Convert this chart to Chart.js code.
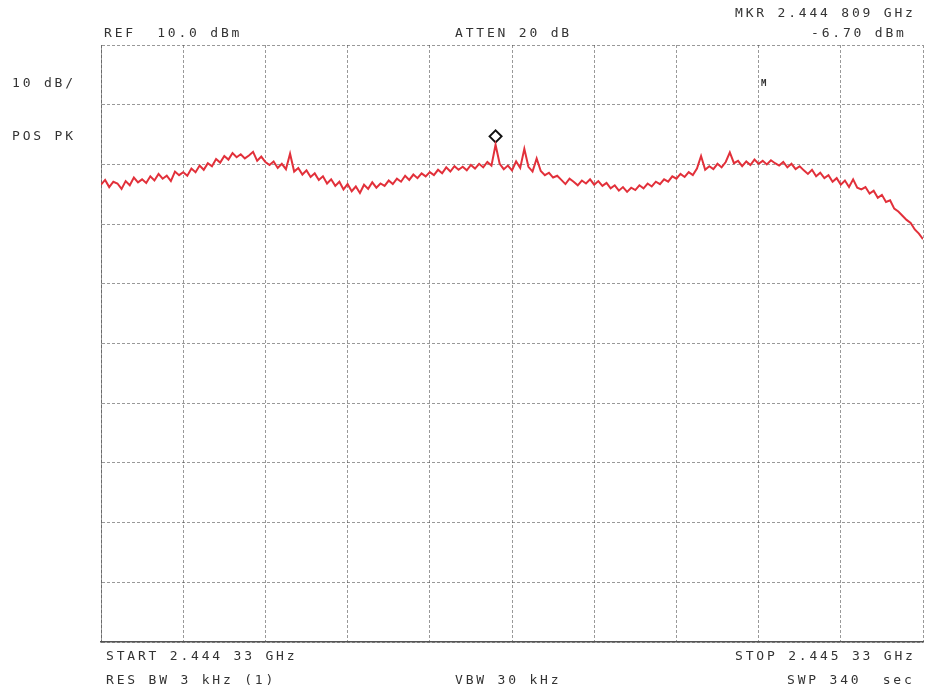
<!DOCTYPE html>
<html>
<head>
<meta charset="utf-8">
<script src="https://cdn.jsdelivr.net/npm/chart.js@4.4.1/dist/chart.umd.min.js"></script>
<style>
  body { margin: 0; background: #fff; }
  #wrap { position: relative; width: 925px; height: 693px; overflow: hidden; }
  canvas { position: absolute; left: 0; top: 0; }
  .lbl { position: absolute; font-family: "DejaVu Sans Mono", monospace; font-size: 13px;
         color: #333; letter-spacing: 2.8px; white-space: pre; line-height: 14px; }
</style>
</head>
<body>
<div id="wrap">
  <canvas id="myChart" width="931" height="693"></canvas>
  <div class="lbl" style="left:104px;top:26px">REF  10.0 dBm</div>
  <div class="lbl" style="left:455px;top:26px">ATTEN 20 dB</div>
  <div class="lbl" style="left:735px;top:6px">MKR 2.444 809 GHz</div>
  <div class="lbl" style="left:811px;top:26px">-6.70 dBm</div>
  <div class="lbl" style="left:12px;top:76px">10 dB/</div>
  <div class="lbl" style="left:12px;top:129px">POS PK</div>
  <div class="lbl" style="left:106px;top:649px">START 2.444 33 GHz</div>
  <div class="lbl" style="left:106px;top:673px">RES BW 3 kHz (1)</div>
  <div class="lbl" style="left:455px;top:673px">VBW 30 kHz</div>
  <div class="lbl" style="left:735px;top:649px">STOP 2.445 33 GHz</div>
  <div class="lbl" style="left:787px;top:673px">SWP 340  sec</div>
  <div class="lbl" style="left:761px;top:76px;font-size:9px;letter-spacing:0;font-weight:bold">M</div>
</div>
<script>
// sweep 2.44433 .. 2.44533 GHz, 201 points, level in dBm
var startFreq = 2.44433
var stopFreq = 2.44533
var refLevel = 10
var dbPerDiv = 10

var trace = [
  -13.4, -12.6, -13.8, -12.9, -13.2, -14.1, -12.8, -13.5, -12.2, -13.0, -12.5,
  -13.1, -12.0, -12.7, -11.6, -12.4, -11.9, -12.8, -11.2, -11.8, -11.3,
  -11.9, -10.7, -11.3, -10.2, -10.9, -9.8, -10.3,
  -9.1, -9.7, -8.6, -9.2, -8.1, -8.8,
  -8.3, -9.0, -8.5, -7.9, -9.4, -8.7,
  -9.6, -10.1, -9.5, -10.6, -9.9, -10.8, -8.2,
  -11.2, -10.6, -11.7, -11.0, -12.1, -11.5, -12.6,
  -12.0, -13.2, -12.5, -13.6, -12.9, -14.2, -13.3, -14.5, -13.7,
  -14.8, -13.4, -14.1, -13.0, -13.9, -13.2,
  -13.6, -12.7, -13.3, -12.4, -12.9, -11.9, -12.6, -11.7, -12.3, -11.5,
  -12.0, -11.3, -11.8, -10.9, -11.5, -10.5, -11.2, -10.3, -10.9,
  -10.4, -11.0, -10.1, -10.7, -9.9, -10.5, -9.6, -10.2,
  -6.7,
  -9.9, -10.8, -10.2, -11.0, -9.5, -10.6,
  -7.4,
  -10.4, -11.2, -9.0, -11.1, -11.8, -11.4, -12.2, -11.9,
  -12.6, -13.3, -12.4, -12.9, -13.5, -12.7, -13.2, -12.5, -13.4, -12.8,
  -13.6, -13.1, -14.0, -13.5, -14.4, -13.8, -14.6,
  -13.9, -14.3, -13.5, -14.0, -13.2, -13.7, -12.9,
  -13.3, -12.5, -12.9, -12.0, -12.4, -11.6, -12.1, -11.3, -11.8, -10.7,
  -8.6, -10.9, -10.3, -10.8, -9.9, -10.5, -9.6, -8.0, -9.8, -9.4,
  -10.3, -9.5, -10.1, -9.2, -9.9, -9.4, -10.0, -9.3,
  -9.8, -10.2, -9.6, -10.5, -9.9, -10.8, -10.3,
  -11.0, -11.6, -10.9, -12.0, -11.4, -12.3, -11.8,
  -12.9, -12.3, -13.4, -12.7, -13.8, -12.5, -13.9, -14.2,
  -13.8, -14.9, -14.4, -15.6, -15.1, -16.3, -16.0,
  -17.4, -17.9, -18.6, -19.3, -19.8,
  -20.9, -21.6, -22.5
]

// marker: diamond drawn just above the peak
var markerIndex = [96]
var markerLevel = [-5.3]

var pts = trace.map(function (v, i) { return { x: i, y: v } })
var mk = markerIndex.map(function (v, i) { return { x: v, y: markerLevel[i] } })

var gridCol = 'rgba(70,70,70,0.55)'

const ctx = document.getElementById('myChart').getContext('2d')
var chart = new Chart(ctx, {
  type: 'line',
  data: {
    datasets: [{
      label: 'trace',
      data: pts,
      borderColor: 'rgb(226,48,58)',
      borderWidth: 2,
      pointRadius: 0,
      tension: 0
    }, {
      label: 'marker',
      data: mk,
      showLine: false,
      pointStyle: 'rectRot',
      pointRadius: 6,
      pointBackgroundColor: '#fff',
      pointBorderColor: '#111',
      pointBorderWidth: 2
    }]
  },
  options: {
    responsive: false,
    animation: false,
    layout: { padding: { left: 101, right: 2, top: 45, bottom: 51 } },
    plugins: { legend: { display: false }, tooltip: { enabled: false } },
    scales: {
      x: {
        type: 'linear',
        min: 0,
        max: trace.length - 1,
        ticks: { display: false, stepSize: (trace.length - 1) / 10 },
        grid: { color: gridCol, drawTicks: false, lineWidth: 1 },
        border: { display: true, color: '#555', width: 1.5, dash: [3, 2] }
      },
      y: {
        min: refLevel - 10 * dbPerDiv,
        max: refLevel,
        ticks: { display: false, stepSize: dbPerDiv },
        grid: { color: gridCol, drawTicks: false, lineWidth: 1 },
        border: { display: true, color: gridCol, dash: [3, 2] }
      }
    }
  }
})
</script>
</body>
</html>
